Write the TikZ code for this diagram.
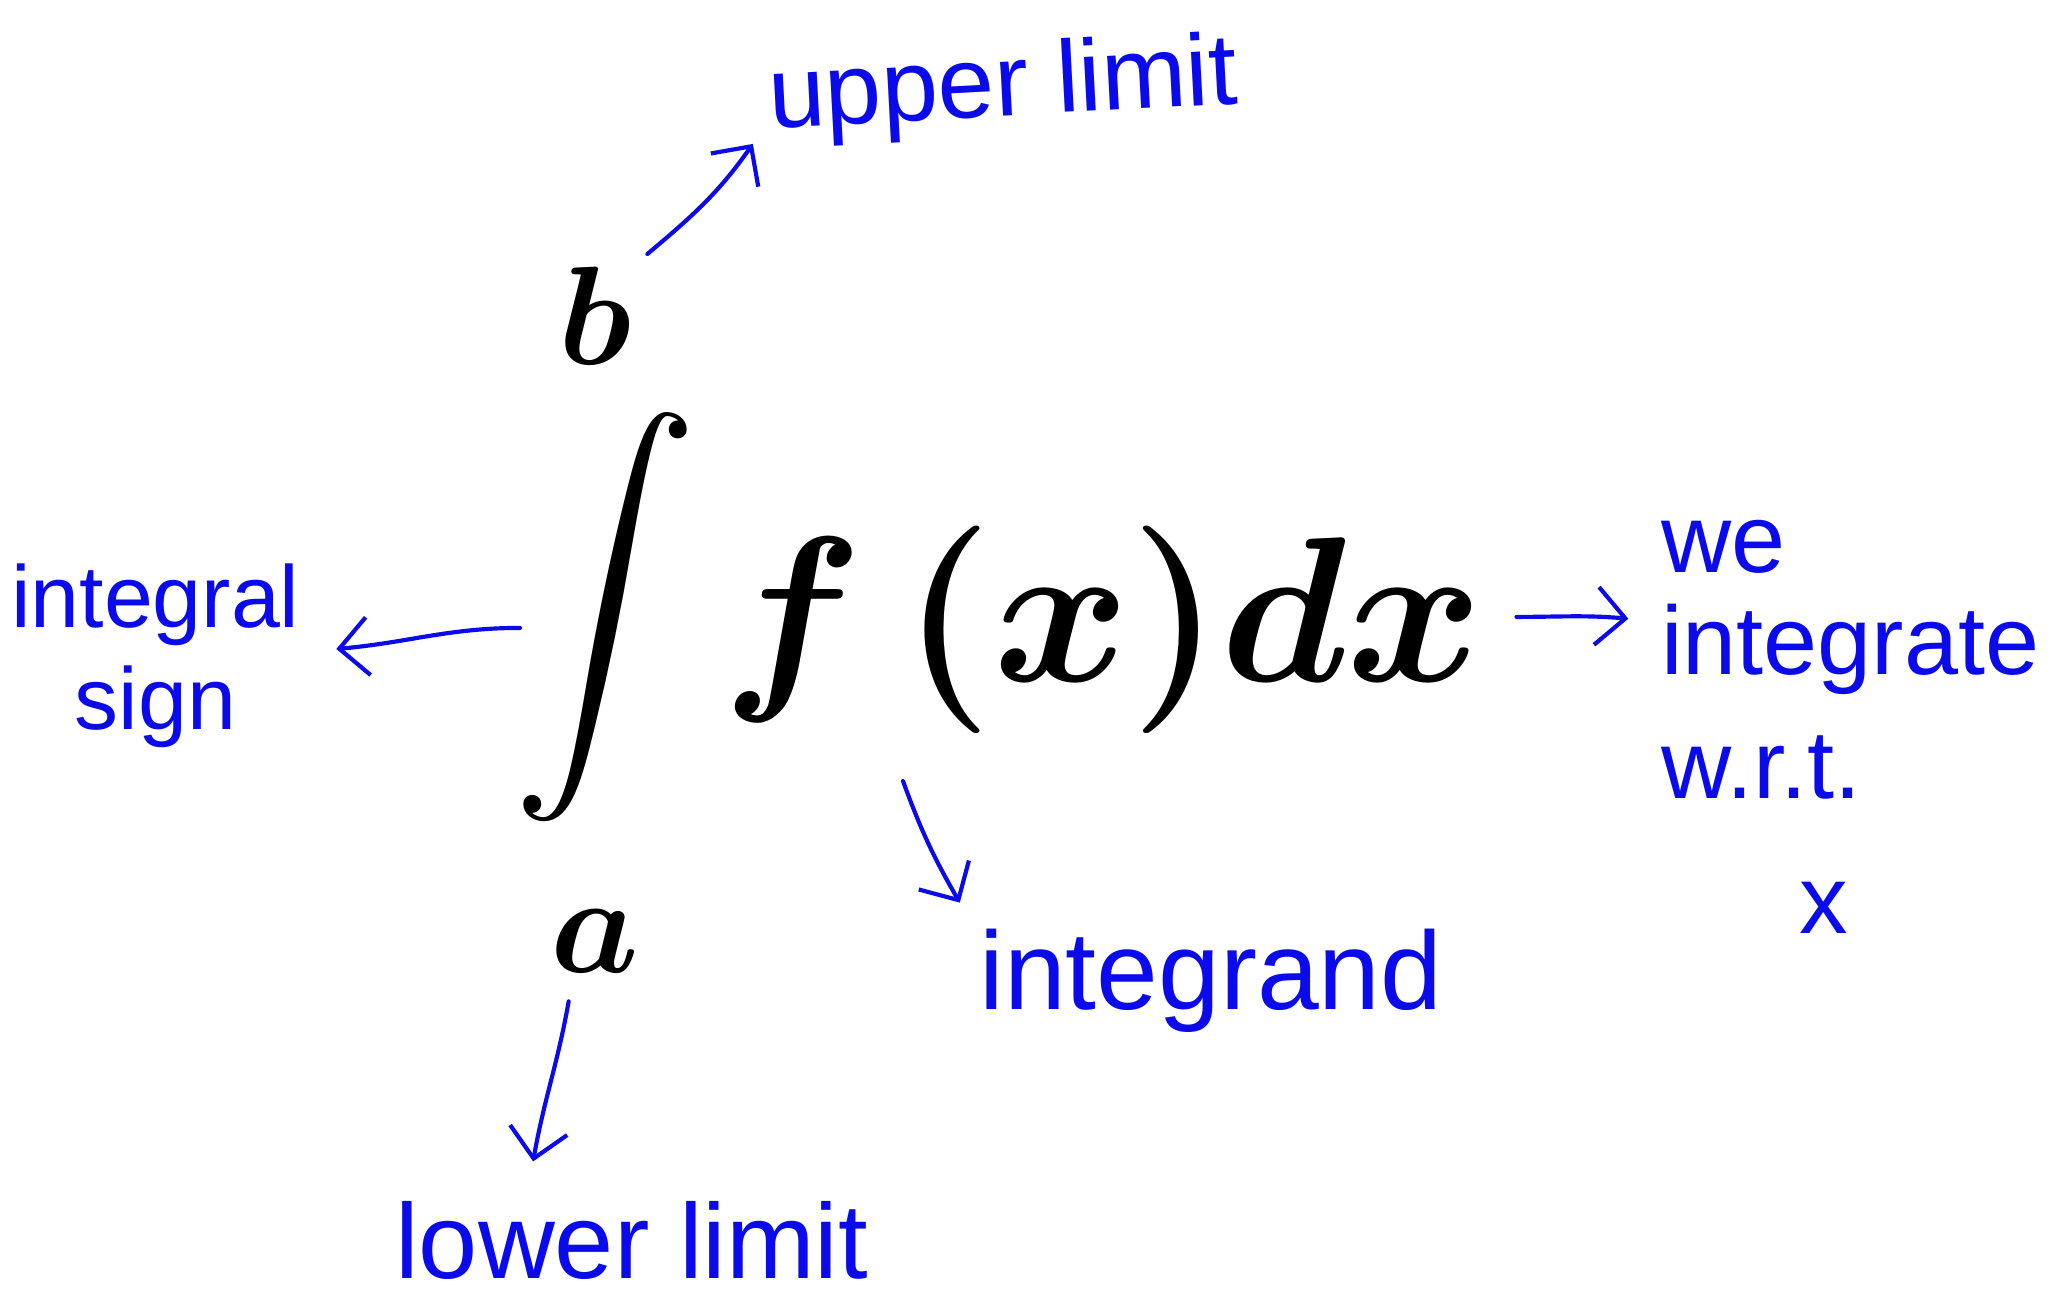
\documentclass[tikz,border=0pt]{standalone}
\usepackage{amsmath}
\usepackage{fontspec}
\usetikzlibrary{arrows.meta}
\newfontfamily\handfont{Liberation Sans}
\definecolor{ink}{RGB}{10,10,235}
\begin{document}
\begin{tikzpicture}[>={Straight Barb[length=2.2mm,width=4.4mm]},
    every node/.style={inner sep=0pt, outer sep=0pt},
    limit/.style={font=\Huge\boldmath, scale=1.22},
    intsign/.style={font=\Huge\boldmath, scale=1.6},
    expr/.style={font=\Huge\boldmath, scale=1.8},
    hand/.style={text=ink, font=\handfont\fontsize{21}{26}\selectfont},
    handarrow/.style={draw=ink, line width=0.9pt, line cap=round, ->}]
\useasboundingbox (0,0) rectangle (15.68,-9.83);
% the integral
\node[limit] (b) at (4.52,-2.40) {$b$};
\node[intsign] (int) at (4.60,-4.69) {$\displaystyle\int$};
\node[limit] (a) at (4.52,-7.15) {$a$};
\node[expr, anchor=base] (fx) at (8.38,-5.18) {$f\,(x)dx$};
% notes
\node[hand, font=\handfont\fontsize{22}{26}\selectfont, rotate=3] (upper) at (7.62,-0.68) {upper limit};
\node[hand, font=\handfont\fontsize{19}{24}\selectfont, align=center] (sign) at (1.18,-4.98) {integral\\[-2pt]sign};
\node[hand, align=left, anchor=north west] (wrt) at (12.62,-3.95)
    {we\\[-4pt]integrate\\[1pt]w.r.t.\\[3pt]\hspace{1.05cm}x};
\node[hand, font=\handfont\fontsize{24}{28}\selectfont] (grand) at (9.2,-7.45) {integrand};
\node[hand, font=\handfont\fontsize{23}{28}\selectfont] (lower) at (4.8,-9.42) {lower limit};
% arrows
\draw[handarrow] ([shift={(0.12,0.1)}]b.north east) to[out=40,in=235] ([shift={(-0.12,-0.32)}]upper.west);
\draw[handarrow] ([xshift=0.05cm,yshift=-0.08cm]int.west) to[out=180,in=5] ([xshift=0.28cm,yshift=0.05cm]sign.east);
\draw[handarrow] ([xshift=0.25cm,yshift=0.1cm]fx.east) to[out=0,in=175] ([shift={(-0.25,-0.75)}]wrt.north west);
\draw[handarrow] ([shift={(-1.52,-0.36)}]fx.south) to[out=-70,in=120] ([shift={(-0.15,0.2)}]grand.north west);
\draw[handarrow] ([shift={(-0.2,-0.22)}]a.south) to[out=-100,in=80] ([shift={(-0.75,0.3)}]lower.north);
\end{tikzpicture}
\end{document}
